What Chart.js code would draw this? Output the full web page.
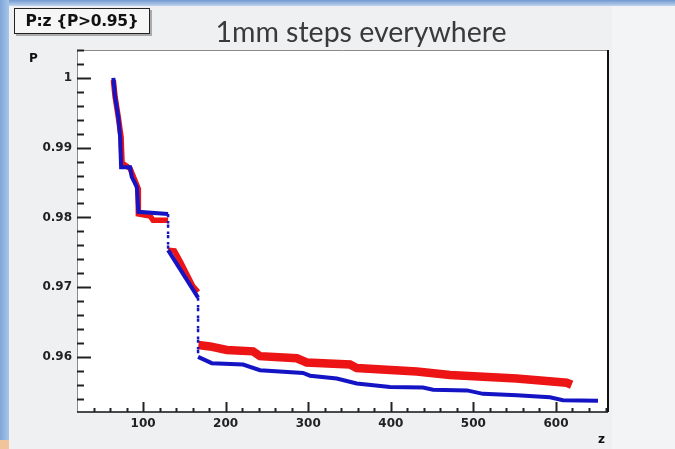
<!DOCTYPE html>
<html>
<head>
<meta charset="utf-8">
<script src="https://cdn.jsdelivr.net/npm/chart.js@4.4.1/dist/chart.umd.min.js"></script>
<style>
  html, body { margin: 0; padding: 0; }
  body { width: 675px; height: 449px; overflow: hidden; position: relative; background: #eef0f2; }
  .stripLeft { position: absolute; left: 0; top: 0; width: 9px; height: 449px; background: linear-gradient(to right, #7ea6d8, #a8c5ea); }
  .stripTop { position: absolute; left: 0; top: 0; width: 675px; height: 6px; background: linear-gradient(#7098d0, #c0d4ee); }
  .orange { position: absolute; left: 0; top: 440px; width: 9px; height: 9px; background: #f2c49a; }
  .rightPane { position: absolute; left: 612px; top: 6px; width: 63px; height: 443px; background: #f3f4f5; }
  #statBox { position: absolute; left: 14px; top: 8px; width: 134px; height: 24px; border: 1.5px solid #222;
             background: #f6f6f6; box-shadow: 2px 2px 0 #aaa; font: bold 15.5px "DejaVu Sans", sans-serif;
             line-height: 24px; text-align: center; color: #111; letter-spacing: -0.3px; }
  #title { position: absolute; left: 361px; top: 14px; transform: translateX(-50%); white-space: nowrap;
           font: 28.5px Lato, "Open Sans", sans-serif; color: #3a3a3a; }
  .axisName { position: absolute; font: bold 12px "DejaVu Sans", sans-serif; color: #111; }
  canvas { position: absolute; left: 0; top: 0; }
</style>
</head>
<body>
<div class="stripTop"></div>
<div class="rightPane"></div>
<div class="stripLeft"></div>
<div class="orange"></div>
<canvas id="chart" width="675" height="449"></canvas>
<div id="statBox">P:z {P&gt;0.95}</div>
<div id="title">1mm steps everywhere</div>
<div class="axisName" style="left:29px; top:51px;">P</div>
<div class="axisName" style="left:598px; top:432px;">z</div>
<script>
// =========================
// DATA
// =========================
const blueZ = [64.0, 66.1, 70.1, 72.2, 73.4, 84.3, 86.3, 92.4, 94.3, 130.3, 130.3, 166.6, 166.6,
               183.2, 221.1, 241.6, 293.7, 302.2, 334.5, 358.7, 399.0, 439.0, 451.1, 492.3,
               511.6, 552.8, 592.7, 608.5, 650.9];
const blueP = [1.0000, 0.9973, 0.9943, 0.9915, 0.9872, 0.9872, 0.9858, 0.9844, 0.9808, 0.9805, 0.9753, 0.9685, 0.9600,
               0.9591, 0.9589, 0.9581, 0.9577, 0.9573, 0.9569, 0.9562, 0.9557, 0.9556, 0.9553, 0.9552,
               0.9547, 0.9545, 0.9542, 0.9538, 0.9537];

const redZ = [64.0, 66.1, 70.1, 73.4, 74.6, 84.3, 93.9, 94.3, 108.5, 112.1, 130.3, 130.3,
              130.3, 138.0, 145.0, 160.5, 166.6, 166.6,
              167.0, 181.1, 201.3, 233.2, 241.6, 286.1, 298.2, 350.6, 358.7, 431.4, 471.7, 552.4, 612.9, 619.0];
const redP = [0.9997, 0.9973, 0.9943, 0.9915, 0.9878, 0.9870, 0.9842, 0.9805, 0.9802, 0.9796, 0.9796, null,
              0.9753, 0.9752, 0.9737, 0.9701, 0.9693, null,
              0.9617, 0.9615, 0.9610, 0.9608, 0.9601, 0.9598, 0.9592, 0.9589, 0.9584, 0.9579, 0.9574, 0.9569, 0.9563, 0.9560];

const xTickValues = [100, 200, 300, 400, 500, 600];
const xTickLabels = ["100", "200", "300", "400", "500", "600"];
const yTickValues = [0.96, 0.97, 0.98, 0.99, 1];
const yTickLabels = ["0.96", "0.97", "0.98", "0.99", "1"];

const xRange = [20, 663];
const yRange = [0.9521, 1.004];

const toPoints = (zs, ps) => zs.map((z, i) => ({ x: z, y: ps[i] }));

// =========================
// ROOT STYLE FRAME + INNER TICKS
// =========================
const rootFrame = {
    id: "rootFrame",
    beforeDraw(chart) {
        const { ctx, chartArea: a } = chart;
        ctx.save();
        ctx.fillStyle = "#ffffff";
        ctx.fillRect(a.left, a.top, a.right - a.left, a.bottom - a.top);
        ctx.restore();
    },
    afterDraw(chart) {
        const { ctx, chartArea: a, scales: { x, y } } = chart;
        ctx.save();

        // top + left edges (thin)
        ctx.strokeStyle = "#8a8a8a";
        ctx.lineWidth = 1;
        ctx.beginPath();
        ctx.moveTo(a.left, a.top + 0.5);
        ctx.lineTo(a.right, a.top + 0.5);
        ctx.moveTo(a.left + 0.5, a.top);
        ctx.lineTo(a.left + 0.5, a.bottom);
        ctx.stroke();

        // right + bottom edges
        ctx.strokeStyle = "#111";
        ctx.lineWidth = 2;
        ctx.beginPath();
        ctx.moveTo(a.right, a.top);
        ctx.lineTo(a.right, a.bottom);
        ctx.stroke();
        ctx.lineWidth = 1.5;
        ctx.beginPath();
        ctx.moveTo(a.left, a.bottom);
        ctx.lineTo(a.right, a.bottom);
        ctx.stroke();

        // y ticks: minor every 0.002
        ctx.strokeStyle = "#222";
        ctx.lineWidth = 2;
        for (let k = 0; k <= 30; k++) {
            const v = 0.954 + k * 0.002;
            if (v > yRange[1]) break;
            const py = Math.round(y.getPixelForValue(v)) + 0.5;
            const major = Math.abs(v * 100 - Math.round(v * 100)) < 1e-6;
            ctx.beginPath();
            ctx.moveTo(a.left, py);
            ctx.lineTo(a.left + (major ? 14 : 7), py);
            ctx.stroke();
        }

        // x ticks: minor every 20
        for (let v = 40; v < xRange[1]; v += 20) {
            const px = Math.round(x.getPixelForValue(v)) + 0.5;
            const major = v % 100 === 0;
            ctx.beginPath();
            ctx.moveTo(px, a.bottom);
            ctx.lineTo(px, a.bottom - (major ? 10 : 4));
            ctx.stroke();
        }
        ctx.restore();
    }
};

const isJump = c =>
    c.p0.parsed.x === c.p1.parsed.x && Math.abs(c.p0.parsed.y - c.p1.parsed.y) > 0.003;

new Chart(document.getElementById("chart"), {
    type: "scatter",
    data: {
        datasets: [
            {
                label: "blue",
                data: toPoints(blueZ, blueP),
                showLine: true,
                borderColor: "#1414c4",
                borderWidth: 4,
                pointRadius: 0,
                order: 0,
                segment: {
                    borderDash: c => isJump(c) ? [2.5, 8] : undefined,
                    borderWidth: c => isJump(c) ? 2.5 : undefined
                }
            },
            {
                label: "red",
                data: toPoints(redZ, redP),
                showLine: true,
                spanGaps: false,
                borderColor: "#ec1414",
                borderWidth: 8.5,
                borderCapStyle: "butt",
                pointRadius: 0,
                order: 1,
                segment: {
                    borderWidth: c => c.p0.parsed.x < 166 ? 5.5 : undefined
                }
            }
        ]
    },
    options: {
        responsive: false,
        animation: false,
        layout: { padding: { left: 0, top: 50, right: 67, bottom: 0 } },
        plugins: {
            legend: { display: false },
            tooltip: { enabled: false }
        },
        scales: {
            x: {
                type: "linear",
                min: xRange[0],
                max: xRange[1],
                grid: { display: false, drawTicks: false },
                border: { display: false },
                afterBuildTicks: s => { s.ticks = xTickValues.map(v => ({ value: v })); },
                afterFit: s => { s.height = 37; },
                ticks: {
                    padding: 5,
                    color: "#222",
                    font: { family: "DejaVu Sans", weight: "bold", size: 12 },
                    callback: v => xTickLabels[xTickValues.indexOf(v)]
                }
            },
            y: {
                type: "linear",
                min: yRange[0],
                max: yRange[1],
                grid: { display: false, drawTicks: false },
                border: { display: false },
                afterBuildTicks: s => { s.ticks = yTickValues.map(v => ({ value: v })); },
                afterFit: s => { s.width = 77; },
                ticks: {
                    padding: 5,
                    color: "#222",
                    font: { family: "DejaVu Sans", weight: "bold", size: 12 },
                    callback: v => yTickLabels[yTickValues.indexOf(v)]
                }
            }
        }
    },
    plugins: [rootFrame]
});
</script>
</body>
</html>
